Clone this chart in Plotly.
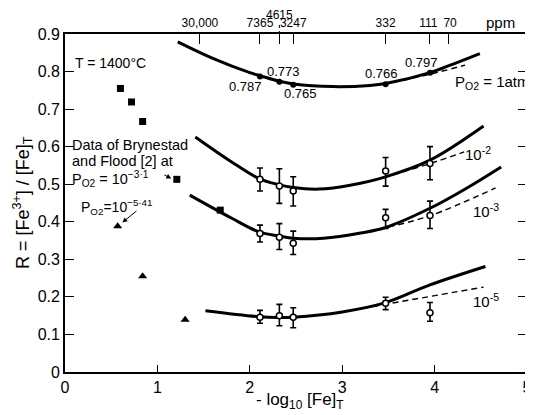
import plotly.graph_objects as go

# ---- data ----
pt_x = [2.11, 2.32, 2.47, 3.47, 3.95]

# P_O2 = 1 atm
atm1_vals = [0.787, 0.773, 0.765, 0.766, 0.797]
atm1_curve_x = [1.22, 1.6, 2.0, 2.11, 2.32, 2.47, 2.9, 3.3, 3.47, 3.95, 4.2, 4.49]
atm1_curve_y = [0.879, 0.835, 0.797, 0.789, 0.774, 0.767, 0.760, 0.763, 0.768, 0.797, 0.820, 0.848]
atm1_dash_x = [3.55, 3.95, 4.33]
atm1_dash_y = [0.771, 0.793, 0.817]

# P_O2 = 1e-2
e2_y = [0.513, 0.495, 0.482, 0.535, 0.555]
e2_up = [0.030, 0.046, 0.038, 0.036, 0.045]
e2_dn = [0.031, 0.046, 0.040, 0.040, 0.043]
e2_curve_x = [1.41, 1.8, 2.10, 2.31, 2.47, 2.75, 3.1, 3.46, 3.95, 4.53]
e2_curve_y = [0.626, 0.560, 0.515, 0.499, 0.491, 0.487, 0.498, 0.519, 0.564, 0.655]
e2_dash_x = [3.55, 3.95, 4.32]
e2_dash_y = [0.525, 0.555, 0.586]

# P_O2 = 1e-3
e3_y = [0.369, 0.359, 0.343, 0.411, 0.417]
e3_up = [0.022, 0.036, 0.032, 0.022, 0.038]
e3_dn = [0.023, 0.033, 0.030, 0.029, 0.035]
e3_curve_x = [1.35, 1.8, 2.10, 2.32, 2.47, 2.8, 3.2, 3.46, 3.95, 4.35, 4.72]
e3_curve_y = [0.471, 0.410, 0.373, 0.362, 0.356, 0.356, 0.370, 0.384, 0.436, 0.490, 0.546]
e3_dash_x = [3.50, 3.95, 4.66]
e3_dash_y = [0.386, 0.416, 0.490]

# P_O2 = 1e-5
e5_y = [0.146, 0.150, 0.146, 0.183, 0.158]
e5_up = [0.018, 0.030, 0.025, 0.016, 0.027]
e5_dn = [0.016, 0.027, 0.028, 0.017, 0.023]
e5_curve_x = [1.52, 2.1, 2.3, 2.47, 3.0, 3.46, 3.95, 4.55]
e5_curve_y = [0.163, 0.147, 0.145, 0.146, 0.160, 0.184, 0.232, 0.281]
e5_dash_x = [3.12, 3.46, 4.53]
e5_dash_y = [0.165, 0.180, 0.226]

# Brynestad and Flood data
sq_x = [0.60, 0.72, 0.84, 1.21, 1.68]
sq_y = [0.755, 0.719, 0.667, 0.513, 0.431]
tri_x = [0.57, 0.84, 1.30]
tri_y = [0.388, 0.255, 0.139]

# top ppm axis
ppm_vals = [1.46, 2.11, 2.32, 2.47, 3.47, 3.95, 4.15]
ppm_text = ["30,000", "7365", "", "3247", "332", "111 ", " 70"]

x_ticks = [0, 1, 2, 3, 4, 5]
y_ticks = [0, 0.1, 0.2, 0.3, 0.4, 0.5, 0.6, 0.7, 0.8, 0.9]
y_tick_text = ["0", "0.1", "0.2", "0.3", "0.4", "0.5", "0.6", "0.7", "0.8", "0.9"]

FONT = "Liberation Sans"
BLACK = "black"

fig = go.Figure()

def solid(x, y):
    fig.add_trace(go.Scatter(x=x, y=y, mode="lines", line=dict(color=BLACK, width=3, shape="spline"),
                             showlegend=False, hoverinfo="skip"))

def dashed(x, y):
    fig.add_trace(go.Scatter(x=x, y=y, mode="lines", line=dict(color=BLACK, width=1.4, dash="6px,4px", shape="spline"),
                             showlegend=False, hoverinfo="skip"))

for cx, cy in [(atm1_curve_x, atm1_curve_y), (e2_curve_x, e2_curve_y), (e3_curve_x, e3_curve_y), (e5_curve_x, e5_curve_y)]:
    solid(cx, cy)
for cx, cy in [(atm1_dash_x, atm1_dash_y), (e2_dash_x, e2_dash_y), (e3_dash_x, e3_dash_y), (e5_dash_x, e5_dash_y)]:
    dashed(cx, cy)

# 1 atm points
fig.add_trace(go.Scatter(x=pt_x, y=atm1_vals, mode="markers",
                         marker=dict(color=BLACK, size=6), showlegend=False))

# open circles with error bars
for ys, up, dn in [(e2_y, e2_up, e2_dn), (e3_y, e3_up, e3_dn), (e5_y, e5_up, e5_dn)]:
    fig.add_trace(go.Scatter(x=pt_x, y=ys, mode="markers",
                             marker=dict(color="white", size=6, line=dict(color=BLACK, width=1.5)),
                             error_y=dict(type="data", array=up, arrayminus=dn, color=BLACK, thickness=1.6, width=3),
                             showlegend=False))

fig.add_trace(go.Scatter(x=sq_x, y=sq_y, mode="markers",
                         marker=dict(symbol="square", color=BLACK, size=7), showlegend=False))
fig.add_trace(go.Scatter(x=tri_x, y=tri_y, mode="markers",
                         marker=dict(symbol="triangle-up", color=BLACK, size=8), showlegend=False))

# dummy trace for top axis
fig.add_trace(go.Scatter(x=[0, 5], y=[0, 0], xaxis="x2", mode="markers",
                         marker=dict(opacity=0), showlegend=False, hoverinfo="skip"))

ann = []
def A(x, y, text, size=13, xanchor="center", **kw):
    d = dict(x=x, y=y, xref="x", yref="y", text=text, showarrow=False,
             font=dict(family=FONT, size=size, color=BLACK), xanchor=xanchor, yanchor="middle")
    d.update(kw)
    ann.append(d)

# value labels for 1 atm
A(1.95, 0.760, "0.787", size=13)
A(2.37, 0.801, "0.773", size=13)
A(2.55, 0.742, "0.765", size=13)
A(3.43, 0.795, "0.766", size=13)
A(3.86, 0.824, "0.797", size=13)

A(0.09, 0.822, "T = 1400°C", size=14, xanchor="left")
A(0.05, 0.605, "Data of Brynestad", size=14.5, xanchor="left")
A(0.05, 0.563, "and Flood [2] at", size=14.5, xanchor="left")
A(0.05, 0.513, "P<sub>O2</sub> = 10<sup>−3·1</sup>", size=14.5, xanchor="left")
A(0.56, 0.440, "P<sub>O2</sub>=10<sup>−5·41</sup>", size=14)

A(4.62, 0.772, "P<sub>O2</sub> = 1atm", size=15)
A(4.47, 0.583, "10<sup>-2</sup>", size=15)
A(4.56, 0.431, "10<sup>-3</sup>", size=15)
A(4.56, 0.190, "10<sup>-5</sup>", size=15)

# arrows
ann.append(dict(x=1.15, y=0.515, ax=1.06, ay=0.527, xref="x", yref="y", axref="x", ayref="y",
                text="", showarrow=True, arrowhead=2, arrowsize=1, arrowwidth=1, arrowcolor=BLACK))
ann.append(dict(x=0.62, y=0.398, ax=0.79, ay=0.432, xref="x", yref="y", axref="x", ayref="y",
                text="", showarrow=True, arrowhead=2, arrowsize=1, arrowwidth=1, arrowcolor=BLACK))

# top extra labels (above the plot area, so paper-referenced in y)
A(2.32, 1.057, "4615", size=12, yref="paper")
A(4.71, 1.035, "ppm", size=15, yref="paper")

# axis titles
ann.append(dict(x=0.509, y=-0.085, xref="paper", yref="paper", text="- log<sub>10</sub> [Fe]<sub>T</sub>",
                showarrow=False, xanchor="center", yanchor="middle",
                font=dict(family=FONT, size=17, color=BLACK)))
ann.append(dict(x=-0.093, y=0.50, xref="paper", yref="paper", text="R = [Fe<sup>3+</sup>] / [Fe]<sub>T</sub>",
                showarrow=False, textangle=-90, xanchor="center", yanchor="middle",
                font=dict(family=FONT, size=18, color=BLACK)))

# page body has an 8px margin, so the figure is offset by 8px
fig.update_layout(
    width=525, height=407,
    margin=dict(l=57, r=6, t=26, b=43, autoexpand=False),
    paper_bgcolor="white", plot_bgcolor="white",
    font=dict(family=FONT, size=16, color=BLACK),
    annotations=ann,
    shapes=[dict(type="line", xref="x", yref="paper", x0=2.32, x1=2.32, y0=1.0, y1=1.03,
                 line=dict(color=BLACK, width=1, dash="dot"))],
    xaxis=dict(range=[0, 5], tickvals=x_ticks, ticktext=[str(v) for v in x_ticks],
               ticks="inside", ticklen=7, tickwidth=1.2, tickcolor=BLACK, tickangle=0,
               showline=True, linecolor=BLACK, linewidth=1.8, mirror=False,
               showgrid=False, zeroline=False, automargin=False, tickfont=dict(size=16)),
    xaxis2=dict(range=[0, 5], overlaying="x", side="top", tickvals=ppm_vals, ticktext=ppm_text,
                ticks="inside", ticklen=10, tickwidth=1.2, tickcolor=BLACK, tickangle=0,
                showline=True, linecolor=BLACK, linewidth=1.5, automargin=False,
                showgrid=False, zeroline=False, tickfont=dict(size=12)),
    yaxis=dict(range=[0, 0.9], tickvals=y_ticks, ticktext=y_tick_text,
               ticks="inside", ticklen=9, tickwidth=1.2, tickcolor=BLACK,
               showline=True, linecolor=BLACK, linewidth=1.8, mirror="ticks",
               showgrid=False, zeroline=False, automargin=False, tickfont=dict(size=16)),
)

fig.write_html("out.html")
